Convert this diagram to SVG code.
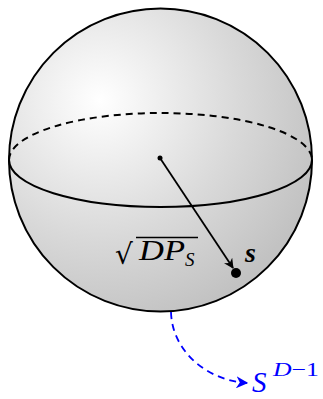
<svg xmlns="http://www.w3.org/2000/svg" width="323" height="399" viewBox="0 0 323 399">
<defs>
<radialGradient id="g" cx="100" cy="100" r="230" gradientUnits="userSpaceOnUse">
<stop offset="0" stop-color="#ffffff"/>
<stop offset="0.6" stop-color="#d9d9d9"/>
<stop offset="1" stop-color="#c2c2c2"/>
</radialGradient>
<marker id="ak" viewBox="0 0 10 10" refX="9" refY="5" markerWidth="10" markerHeight="10" markerUnits="userSpaceOnUse" orient="auto">
<path d="M0,0 L10,5 L0,10 L3,5 Z" fill="#000"/>
</marker>
<marker id="ab" viewBox="0 0 10 10" refX="9" refY="5" markerWidth="12" markerHeight="12" markerUnits="userSpaceOnUse" orient="auto">
<path d="M0,0 L10,5 L0,10 L3,5 Z" fill="#0000ff"/>
</marker>
<style>
.ln{fill:none;stroke:#000;stroke-width:2}
.math{font-family:"Liberation Serif",serif;font-style:italic}
</style>
</defs>
<g id="sphere">
<circle cx="160.5" cy="160" r="151.5" fill="url(#g)" stroke="#000" stroke-width="2"/>
<path class="ln" d="M9,160 A151.5,47 0 0 1 312,160" stroke-dasharray="7,5"/>
<path class="ln" d="M9,160 A151.5,47 0 0 0 312,160"/>
</g>
<g id="connectors">
<line x1="160" y1="158" x2="233" y2="268" stroke="#000" stroke-width="1.8" marker-end="url(#ak)"/>
<path d="M171,312 C172,350 205,380 247,383" fill="none" stroke="#0000ff" stroke-width="1.8" stroke-dasharray="7,5" marker-end="url(#ab)"/>
</g>
<g id="center">
<circle cx="160" cy="158" r="2.5" fill="#000"/>
</g>
<g id="s">
<circle cx="236" cy="273" r="5" fill="#000"/>
<text x="245" y="262" class="math" font-weight="bold" font-size="28">s</text>
</g>
<g id="label">
<text x="115" y="264" font-family="DejaVu Serif,serif" font-size="28">√</text>
<line x1="136" y1="237.5" x2="198" y2="237.5" stroke="#000" stroke-width="1.3"/>
<text x="139" y="260" class="math" font-size="29" textLength="46" lengthAdjust="spacingAndGlyphs">DP</text>
<text x="185" y="266" class="math" font-size="19">S</text>
</g>
<g id="sd1">
<text x="252" y="392" font-family="Liberation Serif,serif" font-size="29" fill="#0000ff" font-style="italic">S</text>
<text x="273" y="376" class="math" font-size="19" fill="#0000ff" textLength="46" lengthAdjust="spacingAndGlyphs">D<tspan font-style="normal">−1</tspan></text>
</g>
</svg>
